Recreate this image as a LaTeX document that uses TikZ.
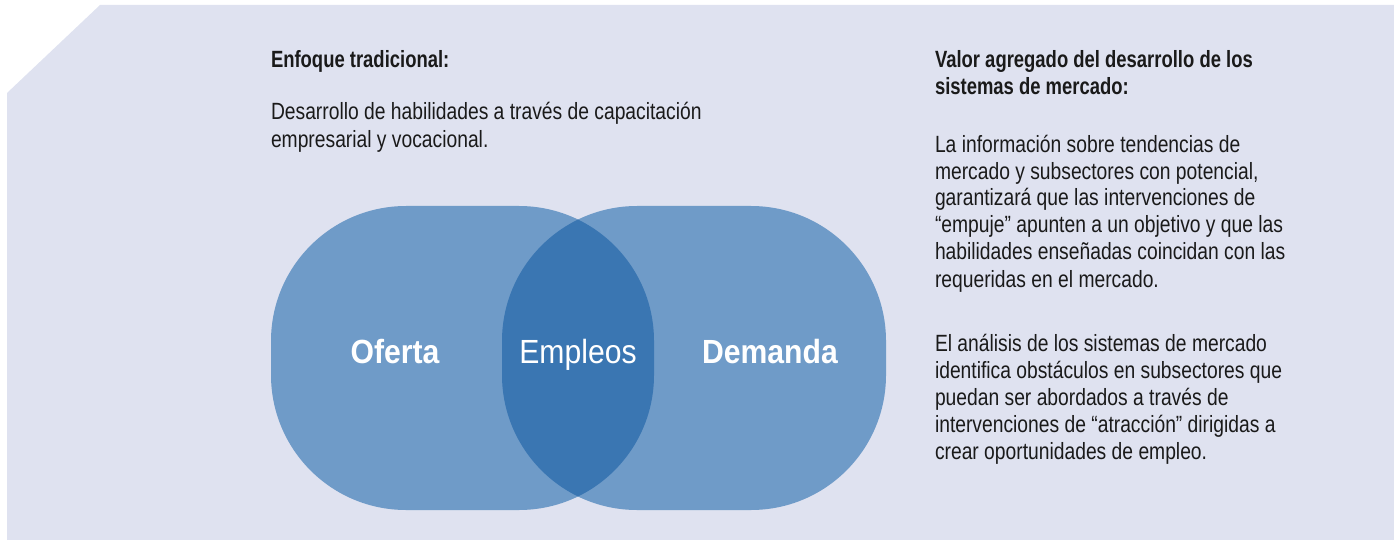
\documentclass[tikz,border=0pt]{standalone}
\usepackage{fontspec}
\setmainfont{Liberation Sans}[FakeStretch=0.82]
\newfontfamily\bigfont{Liberation Sans}[FakeStretch=0.9]
\newfontfamily\headfont{Liberation Sans}[FakeStretch=0.785]
\definecolor{bg}{RGB}{223,226,240}
\definecolor{lightblue}{RGB}{111,155,200}
\definecolor{darkblue}{RGB}{58,118,178}
\definecolor{txt}{RGB}{26,26,26}
\tikzset{
  body/.style={anchor=base west, inner sep=0pt, outer sep=0pt, align=left, text=txt, font=\fontsize{23.5}{27}\selectfont},
  head/.style={body, font=\headfont\fontsize{23.5}{27}\selectfont\bfseries},
  biglabel/.style={anchor=base, inner sep=0pt, text=white},
  blob/.style={rounded corners=135pt}
}
\begin{document}
\begin{tikzpicture}[x=1pt,y=-1pt]
\useasboundingbox (0,0) rectangle (1394,540);
\fill[bg] (7,93) -- (100,5) -- (1394,5) -- (1394,540) -- (7,540) -- cycle;
% two overlapping shapes
\fill[lightblue, blob] (271,206) rectangle (654,510);
\fill[lightblue, blob] (502,206) rectangle (886,510);
\begin{scope}
  \clip[blob] (271,206) rectangle (654,510);
  \fill[darkblue, blob] (502,206) rectangle (886,510);
\end{scope}
% labels
\node[biglabel, font=\bigfont\fontsize{33.5}{40}\selectfont\bfseries] (oferta) at (395,363) {Oferta};
\node[biglabel, font=\bigfont\fontsize{33.5}{40}\selectfont] (empleos) at (578,363) {Empleos};
\node[biglabel, font=\bigfont\fontsize{33.5}{40}\selectfont\bfseries] (demanda) at (770,363) {Demanda};
% left text (anchor = baseline of last line)
\node[head] (h1) at (271,68) {Enfoque tradicional:};
\node[body, font=\fontsize{23.5}{28}\selectfont] (t1) at (271,148) {Desarrollo de habilidades a través de capacitación\\empresarial y vocacional.};
% right text
\node[head] (h2) at (935,95) {Valor agregado del desarrollo de los\\sistemas de mercado:};
\node[body] (p1) at (935,287) {La información sobre tendencias de\\mercado y subsectores con potencial,\\garantizará que las intervenciones de\\“empuje” apunten a un objetivo y que las\\habilidades enseñadas coincidan con las\\requeridas en el mercado.};
\node[body] (p2) at (935,459) {El análisis de los sistemas de mercado\\identifica obstáculos en subsectores que\\puedan ser abordados a través de\\intervenciones de “atracción” dirigidas a\\crear oportunidades de empleo.};
\end{tikzpicture}
\end{document}
